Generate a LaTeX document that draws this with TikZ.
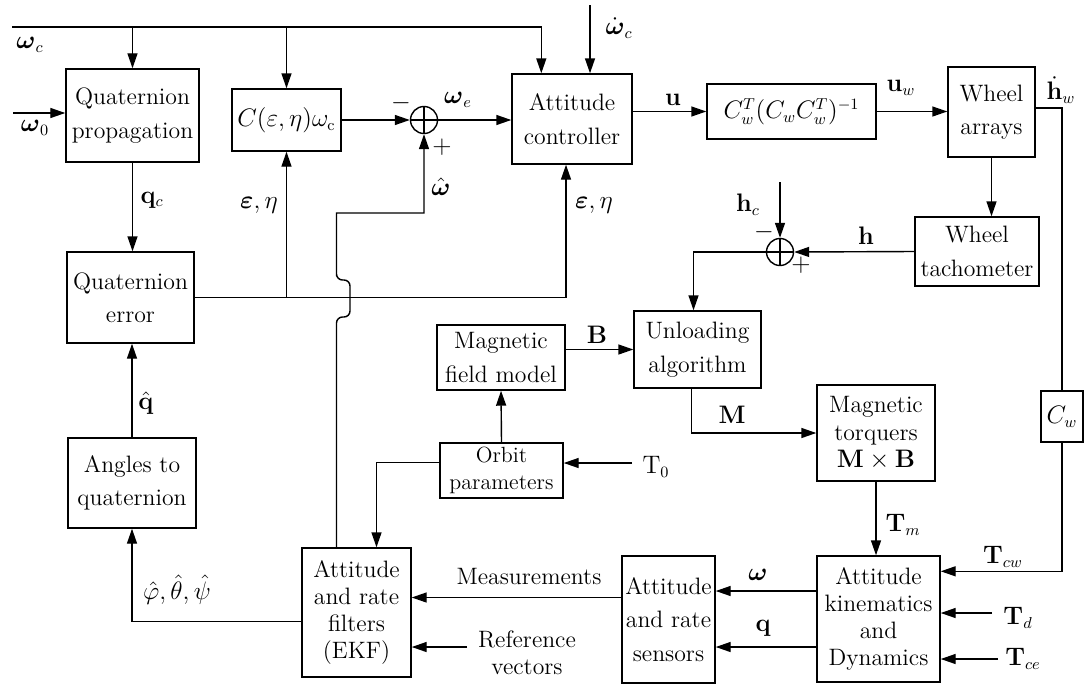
\documentclass[tikz,border=0pt]{standalone}
\usepackage{amsmath}
\usetikzlibrary{arrows.meta,calc}

\begin{document}
\begin{tikzpicture}[x=0.2mm, y=-0.2mm, >={Triangle[length=3mm,width=2mm]},
    line width=0.8pt,
    font=\fontsize{13.5}{19}\selectfont,
    block/.style={draw, align=center, inner sep=1pt},
    tight/.style={font=\fontsize{13.5}{15.5}\selectfont},
    summer/.style={draw, circle, minimum size=5.4mm, inner sep=0pt},
    lab/.style={inner sep=1pt}]

    \useasboundingbox (0,0) rectangle (1087,685);

    % 1. Các khối
    \node[block, minimum width=26.6mm, minimum height=18.6mm] (qprop) at (132.5,115.5) {Quaternion\\propagation};
    \node[block, minimum width=21.8mm, minimum height=12.4mm] (cmat) at (286.5,120) {$C(\varepsilon,\eta)\omega_{\mathrm{c}}$};
    \node[summer] (s1) at (424,120) {};
    \node[block, minimum width=24mm, minimum height=18mm] (ctrl) at (572,119) {Attitude\\controller};
    \node[block, minimum width=33.8mm, minimum height=11mm] (pinv) at (791.5,111.5) {$C_w^T(C_wC_w^T)^{-1}$};
    \node[block, minimum width=17.4mm, minimum height=18mm] (wheel) at (991.5,112) {Wheel\\arrays};
    \node[block, minimum width=24.8mm, minimum height=13.8mm] (tacho) at (977,251.5) {Wheel\\tachometer};
    \node[summer] (s2) at (780,252) {};
    \node[block, minimum width=25.4mm, minimum height=15.4mm] (unload) at (697.5,349.5) {Unloading\\algorithm};
    \node[block, minimum width=25.6mm, minimum height=13mm] (magf) at (501,357.5) {Magnetic\\field model};
    \node[block, tight, minimum width=23.6mm, minimum height=19.2mm] (torq) at (876,433) {Magnetic\\torquers\\$\mathbf{M}\times\mathbf{B}$};
    \node[block, tight, minimum width=24.6mm, minimum height=25.2mm] (kin) at (878.5,619) {Attitude\\kinematics\\and\\Dynamics};
    \node[block, minimum width=18.6mm, minimum height=25.4mm] (sens) at (668.5,619.5) {Attitude\\and rate\\sensors};
    \node[block, tight, minimum width=21.8mm, minimum height=25.8mm] (ekf) at (356.5,612.5) {Attitude\\and rate\\filters\\(EKF)};
    \node[block, minimum width=25.6mm, minimum height=18mm] (angles) at (132,483) {Angles to\\quaternion};
    \node[block, minimum width=25.4mm, minimum height=18.2mm] (qerr) at (130.5,297.5) {Quaternion\\error};
    \node[block, font=\fontsize{12.5}{15}\selectfont, inner sep=0pt, minimum width=24.6mm, minimum height=11mm] (orbit) at (501.5,470.5) {Orbit\\parameters};
    \node[block, minimum width=8.4mm, minimum height=10.2mm] (cw) at (1062,416.5) {$C_w$};

    % dấu cộng trong hai bộ cộng
    \draw (s1.north) -- (s1.south) (s1.west) -- (s1.east);
    \draw (s2.north) -- (s2.south) (s2.west) -- (s2.east);

    % 2. Đường tín hiệu omega_c phía trên
    \coordinate (wc) at (12,27);
    \draw[->] (wc) -| ($(ctrl.north west)+(30,0)$);
    \draw[->] (wc -| qprop.north) -- (qprop.north);
    \draw[->] (wc -| cmat.north) -- (cmat.north);
    \node[lab] (lwc) at (30,45) {$\boldsymbol{\omega}_c$};

    \coordinate (wdot) at (590,5);
    \draw[->] (wdot) -- (wdot |- ctrl.north);
    \node[lab] (lwdot) at (619,28) {$\dot{\boldsymbol{\omega}}_c$};

    \coordinate (w0) at (13,113);
    \draw[->] (w0) -- (w0 -| qprop.west);
    \node[lab] (lw0) at (35,128) {$\boldsymbol{\omega}_0$};

    % 3. Vòng quaternion
    \draw[->] (qprop.south) -- (qprop.south |- qerr.north);
    \node[lab] (lqc) at (152,200) {$\mathbf{q}_c$};

    \draw[->] (qerr.east) -| ($(ctrl.south)+(-6,0)$);
    \draw[->] (qerr.east -| cmat.south) -- (cmat.south);
    \node[lab] (leps1) at (259,205) {$\boldsymbol{\varepsilon},\eta$};
    \node[lab] (leps2) at (594,205) {$\boldsymbol{\varepsilon},\eta$};

    \draw[->] (cmat.east) -- (s1.west);
    \draw[->] (s1.east) -- (s1.east -| ctrl.west);
    \node[lab] (lm1) at (401,103) {$-$};
    \node[lab] (lp1) at (442,147) {$+$};
    \node[lab] (lwe) at (458,100) {$\boldsymbol{\omega}_e$};

    % omega mũ đi từ bộ lọc, nhảy qua đường epsilon, eta
    \draw[->] ($(ekf.north)+(-20,0)$) -- (336.5,322) [rounded corners=1.2mm] -- (336.5,317) -- (350,317)
        -- (350,280) -- (336.5,280) -- (336.5,270) [sharp corners] -- (336.5,213) -| (s1.south);
    \node[lab] (lwh) at (441,187) {$\hat{\boldsymbol{\omega}}$};

    % 4. Bộ điều khiển và bánh đà
    \draw[->] (ctrl.east |- pinv.west) -- (pinv.west);
    \node[lab] (lu) at (673,100) {$\mathbf{u}$};
    \draw[->] (pinv.east) -- (pinv.east -| wheel.west);
    \node[lab] (luw) at (901,88) {$\mathbf{u}_w$};

    \draw ($(wheel.east)+(0,-4)$) -| (cw.north);
    \node[lab] (lhw) at (1061,90) {$\dot{\mathbf{h}}_w$};
    \draw[->] (cw.south) |- ($(kin.north east)+(0,16)$);
    \node[lab] (ltcw) at (1003,557) {$\mathbf{T}_{cw}$};

    \draw[->] (wheel.south) -- (wheel.south |- tacho.north);
    \draw[->] (tacho.west) -- (s2.east);
    \node[lab] (lh) at (866,236) {$\mathbf{h}$};

    \coordinate (hc) at (780,182);
    \draw[->] (hc) -- (s2.north);
    \node[lab] (lhc) at (748,205) {$\mathbf{h}_c$};
    \node[lab] (lm2) at (764,232) {$-$};
    \node[lab] (lp2) at (801,265) {$+$};

    % 5. Giảm tải bằng từ lực
    \draw[->] (s2.west) -| ($(unload.north)+(-4,0)$);
    \draw[->] (magf.east |- unload.west) -- (unload.west);
    \node[lab] (lb) at (597,335) {$\mathbf{B}$};
    \draw[->] ($(unload.south)+(-6,0)$) |- (torq.west);
    \node[lab] (lmm) at (732,415) {$\mathbf{M}$};
    \draw[->] (torq.south) -- (torq.south |- kin.north);
    \node[lab] (ltm) at (903,525) {$\mathbf{T}_m$};

    \draw[->] (orbit.north) -- (magf.south);
    \coordinate (t0) at (632,463);
    \draw[->] (t0) -- (t0 -| orbit.east);
    \node[lab] (lt0) at (656,467) {$\mathrm{T}_0$};
    \draw[->] ($(orbit.west)+(0,-8)$) -| ($(ekf.north)+(20,0)$);

    % 6. Động lực học, cảm biến và bộ lọc
    \coordinate (td) at (992,613);
    \draw[->] (td) -- (td -| kin.east);
    \node[lab] (ltd) at (1018,618) {$\mathbf{T}_d$};
    \coordinate (tce) at (998,659);
    \draw[->] (tce) -- (tce -| kin.east);
    \node[lab] (ltce) at (1023,659) {$\mathbf{T}_{ce}$};

    \coordinate (kw) at ($(kin.west)+(0,-28)$);
    \coordinate (kq) at ($(kin.west)+(0,28)$);
    \draw[->] (kw) -- (kw -| sens.east);
    \draw[->] (kq) -- (kq -| sens.east);
    \node[lab] (lom) at (758,575) {$\boldsymbol{\omega}$};
    \node[lab] (lq) at (763,628) {$\mathbf{q}$};

    \coordinate (sm) at ($(sens.west)+(0,-22)$);
    \draw[->] (sm) -- (sm -| ekf.east);
    \node[lab] (lmeas) at (529,577) {Measurements};
    \coordinate (rv) at (467,647);
    \draw[->] (rv) -- (rv -| ekf.east);
    \node[lab, align=center, tight] (lref) at (527,653) {Reference\\vectors};

    \draw[->] ($(ekf.west)+(0,9)$) -| (angles.south);
    \node[lab] (lang) at (177,590) {$\hat{\varphi},\hat{\theta},\hat{\psi}$};
    \draw[->] (angles.north) -- (angles.north |- qerr.south);
    \node[lab] (lqh) at (146,403) {$\hat{\mathbf{q}}$};
\end{tikzpicture}
\end{document}
